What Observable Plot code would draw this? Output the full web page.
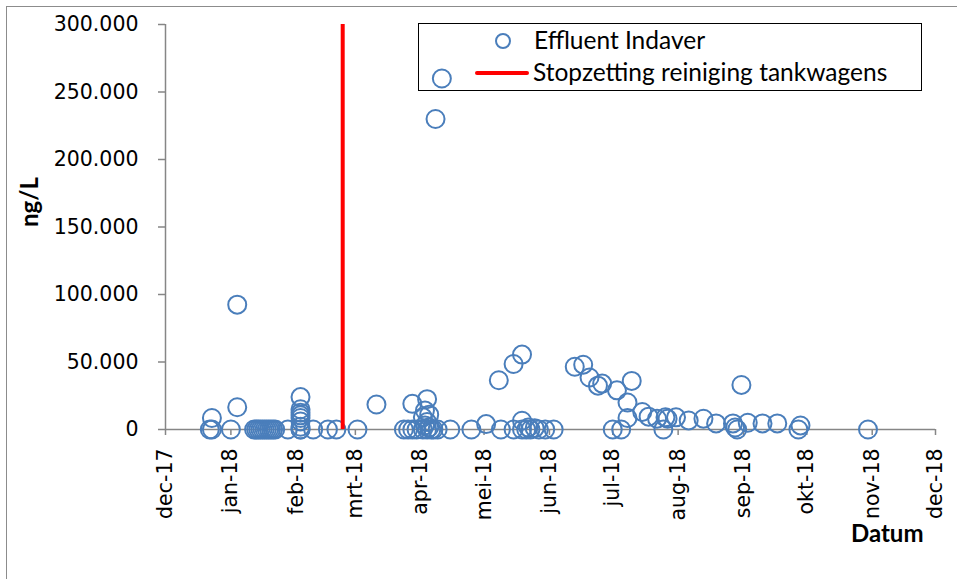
<!DOCTYPE html>
<html><head><meta charset="utf-8">
<script src="https://cdn.jsdelivr.net/npm/d3@7"></script>
<script src="https://cdn.jsdelivr.net/npm/@observablehq/plot@0.6"></script>
<style>
html,body{margin:0;padding:0;background:#fff;overflow:hidden;}
#wrap{position:relative;width:957px;height:579px;overflow:hidden;}
#border{position:absolute;left:6px;top:6px;width:1000px;height:1000px;border:1px solid #8c8c8c;pointer-events:none;}
#legend{position:absolute;left:418px;top:23px;width:502px;height:66px;border:1px solid #000;font-family:Lato,"Open Sans",sans-serif;font-size:24.5px;color:#000;}
#legend .mk{position:absolute;left:76px;top:9px;width:12px;height:12px;border:2px solid #4a7ebb;border-radius:50%;}
#legend .ln{position:absolute;left:56px;top:47px;width:54px;height:4px;background:#ff0000;border-radius:2px;}
#legend .t{position:absolute;white-space:nowrap;line-height:28px;}
</style>
</head><body>
<div id="wrap"><div id="chart"></div><div id="border"></div>
<div id="legend"><div class="mk"></div><div class="t" id="lt1" style="left:115px;top:2px;"></div><div class="ln"></div><div class="t" id="lt2" style="left:114px;top:34px;"></div></div>
</div>
<script>
const seriesName = "Effluent Indaver";
const stopName = "Stopzetting reiniging tankwagens";
const xTitle = "Datum";
const yTitle = "ng/L";

const sampleDates = [
  "2017-12-22","2017-12-23","2017-12-23","2018-01-01","2018-01-04","2018-01-04",
  "2018-01-12","2018-01-13","2018-01-14","2018-01-15","2018-01-16","2018-01-17","2018-01-18","2018-01-19","2018-01-20","2018-01-21","2018-01-22",
  "2018-01-28",
  "2018-02-03","2018-02-03","2018-02-03","2018-02-03","2018-02-03","2018-02-03","2018-02-03","2018-02-03","2018-02-03",
  "2018-02-09","2018-02-16","2018-02-20","2018-03-02","2018-03-11",
  "2018-03-24","2018-03-26","2018-03-28","2018-03-28","2018-03-30",
  "2018-04-02","2018-04-02","2018-04-03","2018-04-03","2018-04-04","2018-04-04","2018-04-04","2018-04-05","2018-04-05","2018-04-06","2018-04-07",
  "2018-04-08","2018-04-09","2018-04-11","2018-04-15","2018-04-25",
  "2018-05-02","2018-05-08","2018-05-09","2018-05-15","2018-05-15","2018-05-19","2018-05-19","2018-05-19","2018-05-21","2018-05-22","2018-05-23","2018-05-25","2018-05-27","2018-05-30","2018-06-03",
  "2018-06-13","2018-06-17","2018-06-20","2018-06-24","2018-06-26",
  "2018-07-01","2018-07-03","2018-07-05","2018-07-08","2018-07-08","2018-07-10","2018-07-15","2018-07-18","2018-07-22","2018-07-25","2018-07-26","2018-07-27","2018-07-31",
  "2018-08-06","2018-08-13","2018-08-19","2018-08-27","2018-08-28","2018-08-29","2018-08-31",
  "2018-09-03","2018-09-10","2018-09-17","2018-09-27","2018-09-28","2018-10-30"
];
const sampleValues = [
  0,0,8500,0,92500,16500,
  0,0,0,0,0,0,0,0,0,0,0,
  0,
  24000,15000,12500,10500,8500,6000,2000,0,0,
  0,0,0,0,18500,
  0,0,19000,0,0,
  9000,0,14000,3000,22500,5500,0,11000,1500,0,0,
  230000,0,260000,0,0,
  4000,36500,0,48500,0,55500,6500,0,0,1500,0,1000,0,0,0,
  46500,48000,38500,32500,34000,
  0,29000,0,8500,20000,36000,13000,9500,8000,0,9000,8000,9000,
  6700,8000,4500,4500,1500,0,33000,
  5000,4500,4500,0,3000,0
];

const stopDateStr = "2018-02-23";

const tickDateStrs = ["2017-12-01","2018-01-01","2018-02-01","2018-03-01","2018-04-01","2018-05-01","2018-06-01","2018-07-01","2018-08-01","2018-09-01","2018-10-01","2018-11-01","2018-12-01"];
const tickLabels = ["dec-17","jan-18","feb-18","mrt-18","apr-18","mei-18","jun-18","jul-18","aug-18","sep-18","okt-18","nov-18","dec-18"];
const yTicks = [0, 50000, 100000, 150000, 200000, 250000, 300000];

document.getElementById("lt1").textContent = seriesName;
document.getElementById("lt2").textContent = stopName;

const tickDates = tickDateStrs.map(s => new Date(s));
const stopDate = new Date(stopDateStr);
const data = sampleDates.map((d, i) => ({date: new Date(d), value: sampleValues[i]}));
const locale = d3.formatLocale({decimal: ",", thousands: ".", grouping: [3], currency: ["€", ""]});
const fmt = locale.format(",d");
const xLabel = d => tickLabels[tickDates.findIndex(t => +t === +d)];
const axisGray = "#868686";

const chart = Plot.plot({
  width: 957, height: 579,
  marginLeft: 165, marginRight: 22, marginTop: 24, marginBottom: 150,
  style: {fontFamily: "DejaVu Sans", fontSize: "20px", color: "#000", background: "transparent", overflow: "visible"},
  x: {type: "utc", domain: [tickDates[0], tickDates[tickDates.length - 1]]},
  y: {domain: [yTicks[0], yTicks[yTicks.length - 1]]},
  marks: [
    Plot.axisY({ticks: yTicks, tickFormat: fmt, tickSize: 7, tickPadding: 20, stroke: axisGray, strokeWidth: 1.5, label: null, fontSize: 20.5}),
    Plot.axisX({ticks: tickDates, tickFormat: xLabel, tickRotate: -90, tickSize: 6, tickPadding: 13, stroke: axisGray, strokeWidth: 1.5, label: null, fontSize: 20.5}),
    Plot.ruleY([yTicks[0]], {stroke: axisGray, strokeWidth: 1.5}),
    Plot.ruleX([tickDates[0]], {stroke: axisGray, strokeWidth: 1.5}),
    Plot.dot(data, {x: "date", y: "value", r: 9, stroke: "#4a7ebb", strokeWidth: 2, fill: "none"}),
    Plot.ruleX([stopDate], {stroke: "#ff0000", strokeWidth: 4}),
    Plot.text([yTitle], {frameAnchor: "left", dx: -135, rotate: -90, fontWeight: "bold", fontFamily: "Lato", fontSize: 24, fill: "#000"}),
    Plot.text([xTitle], {frameAnchor: "bottom-right", dx: -12, dy: 112, textAnchor: "end", fontWeight: "bold", fontFamily: "Lato", fontSize: 24, fill: "#000"})
  ]
});
document.getElementById("chart").appendChild(chart);
</script>
</body></html>
